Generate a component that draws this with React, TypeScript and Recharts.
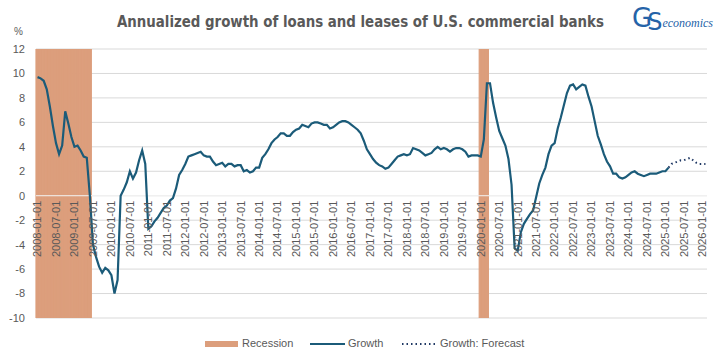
import { Bar, CartesianGrid, ComposedChart, Line, ReferenceLine, XAxis, YAxis } from "recharts";

const START_YEAR = 2008;

// monthly annualized growth, %, from 2008-01
const growth = [
  // 2008
  9.7, 9.6, 9.4, 8.7, 7.3, 5.7, 4.3, 3.4, 4.1, 6.9, 5.9, 4.8,
  // 2009
  4.0, 4.1, 3.7, 3.2, 3.1, 0.0, -4.0, -5.0, -5.8, -6.3, -5.9, -6.1,
  // 2010
  -6.5, -8.0, -6.9, 0.0, 0.5, 1.1, 2.0, 1.4, 1.9, 2.9, 3.7, 2.6,
  // 2011
  -2.7, -2.5, -2.1, -1.8, -1.4, -1.0, -0.8, -0.4, -0.2, 0.6, 1.7, 2.1,
  // 2012
  2.6, 3.2, 3.3, 3.4, 3.5, 3.6, 3.3, 3.2, 3.2, 2.8, 2.5, 2.6,
  // 2013
  2.7, 2.4, 2.6, 2.6, 2.4, 2.5, 2.5, 2.0, 2.1, 1.9, 2.0, 2.3,
  // 2014
  2.3, 3.1, 3.4, 3.8, 4.3, 4.6, 4.8, 5.1, 5.1, 4.9, 4.9, 5.2,
  // 2015
  5.4, 5.5, 5.8, 5.7, 5.6, 5.9, 6.0, 6.0, 5.9, 5.8, 5.8, 5.5,
  // 2016
  5.6, 5.8, 6.0, 6.1, 6.1, 6.0, 5.8, 5.6, 5.4, 5.1, 4.5, 3.8,
  // 2017
  3.4, 3.0, 2.7, 2.5, 2.4, 2.2, 2.3, 2.6, 2.9, 3.2, 3.3, 3.4,
  // 2018
  3.3, 3.4, 3.9, 3.8, 3.7, 3.5, 3.3, 3.4, 3.5, 3.8, 4.0, 3.8,
  // 2019
  3.9, 3.8, 3.6, 3.8, 3.9, 3.9, 3.8, 3.6, 3.2, 3.3, 3.3, 3.3,
  // 2020
  3.2, 4.6, 9.2, 9.2, 7.6, 6.4, 5.3, 4.7, 4.1, 3.0, 0.9, -4.3,
  // 2021
  -4.5, -3.0, -2.3, -1.9, -1.5, -1.2, -0.1, 1.0, 1.7, 2.3, 3.4, 4.1,
  // 2022
  4.3, 5.5, 6.4, 7.4, 8.4, 9.0, 9.1, 8.7, 8.9, 9.1, 9.0, 8.1,
  // 2023
  7.3, 6.1, 4.9, 4.2, 3.4, 2.8, 2.4, 1.8, 1.8, 1.5, 1.4, 1.5,
  // 2024
  1.7, 1.9, 2.0, 1.8, 1.7, 1.6, 1.7, 1.8, 1.8, 1.8, 1.9, 2.0,
  // 2025
  2.0, 2.3,
];

// forecast starts at the last actual month (2025-02)
const forecast = [2.3, 2.6, 2.7, 2.8, 2.9, 2.9, 3.0, 3.1, 2.9, 2.7, 2.6, 2.6, 2.6];

const recessions = [
  ["2008-01-01", "2009-06-01"],
  ["2020-01-01", "2020-03-01"],
];

const tickLabels = [
  "2008-01-01", "2008-07-01", "2009-01-01", "2009-07-01", "2010-01-01", "2010-07-01",
  "2011-01-01", "2011-07-01", "2012-01-01", "2012-07-01", "2013-01-01", "2013-07-01",
  "2014-01-01", "2014-07-01", "2015-01-01", "2015-07-01", "2016-01-01", "2016-07-01",
  "2017-01-01", "2017-07-01", "2018-01-01", "2018-07-01", "2019-01-01", "2019-07-01",
  "2020-01-01", "2020-07-01", "2021-01-01", "2021-07-01", "2022-01-01", "2022-07-01",
  "2023-01-01", "2023-07-01", "2024-01-01", "2024-07-01", "2025-01-01", "2025-07-01",
  "2026-01-01",
];

const yTicks = [-10, -8, -6, -4, -2, 0, 2, 4, 6, 8, 10, 12];
const Y_MIN = -10;
const Y_MAX = 12;

const forecastStart = growth.length - 1;
const monthCount = forecastStart + forecast.length;

const monthLabel = (i: number) => {
  const y = START_YEAR + Math.floor(i / 12);
  const m = (i % 12) + 1;
  return `${y}-${m < 10 ? "0" + m : m}-01`;
};

const data = Array.from({ length: monthCount }, (_, i) => {
  const date = monthLabel(i);
  const inRec = recessions.some(([a, b]) => date >= a && date <= b);
  return {
    date,
    rec: inRec ? [Y_MIN, Y_MAX] : null,
    growth: i < growth.length ? growth[i] : null,
    forecast: i >= forecastStart ? forecast[i - forecastStart] : null,
  };
});

const W = 721;
const H = 364;
const MARGIN = { top: 49, right: 14, bottom: 45, left: 0 };
const X_AXIS_H = 1;
const Y_AXIS_W = 36;
const PLOT_H = H - MARGIN.top - MARGIN.bottom - X_AXIS_H;
const ZERO_Y = MARGIN.top + (PLOT_H * Y_MAX) / (Y_MAX - Y_MIN);

const GREY = "#595959";
const REC = "#dc9e7c";
const LINE = "#1b5b79";
const FC = "#1f3864";
const FONT = '"Liberation Sans", Arial, sans-serif';

function DateTick(props: any) {
  const { x, payload } = props;
  if (!tickLabels.includes(payload.value)) return <g />;
  const y = ZERO_Y + 5;
  return (
    <text
      x={x}
      y={y}
      dy="0.35em"
      transform={`rotate(-90, ${x}, ${y})`}
      textAnchor="end"
      fontSize={11}
      fontFamily={FONT}
      fill={GREY}
    >
      {payload.value}
    </text>
  );
}

export default function App() {
  return (
    <div style={{ position: "absolute", left: 0, top: 0, width: W, height: H, background: "#fff", fontFamily: FONT }}>
      <div
        style={{
          position: "absolute",
          left: 0,
          width: 721,
          top: 12,
          textAlign: "center",
          fontFamily: '"DejaVu Sans Condensed", sans-serif',
          fontWeight: "bold",
          fontSize: 16.5,
          color: GREY,
          transform: "scaleX(0.9)",
          transformOrigin: "360px 0",
        }}
      >
        Annualized growth of loans and leases of U.S. commercial banks
      </div>
      <div style={{ position: "absolute", left: 632, top: 3, color: "#2563a8", whiteSpace: "nowrap" }}>
        <span style={{ fontFamily: "DejaVu Sans, sans-serif", fontSize: 26, letterSpacing: -5 }}>G</span>
        <span style={{ fontFamily: "DejaVu Sans, sans-serif", fontSize: 24, position: "relative", top: 3 }}>S</span>
        <span style={{ fontFamily: "Liberation Serif, serif", fontStyle: "italic", fontSize: 12, marginLeft: 0 }}>economics</span>
      </div>
      <div style={{ position: "absolute", left: 14, top: 26, fontSize: 10, color: GREY }}>%</div>

      <ComposedChart width={W} height={H} data={data} margin={MARGIN} barCategoryGap={0} barGap={0}>
        <CartesianGrid vertical={false} stroke="#d9d9d9" />
        <YAxis
          width={Y_AXIS_W}
          domain={[Y_MIN, Y_MAX]}
          ticks={yTicks}
          interval={0}
          allowDataOverflow
          axisLine={false}
          tickLine={false}
          tickSize={0}
          tickMargin={11}
          tick={{ fontSize: 11, fill: GREY, fontFamily: FONT }}
        />
        <XAxis
          dataKey="date"
          height={X_AXIS_H}
          interval={5}
          axisLine={false}
          tickLine={false}
          tick={<DateTick />}
        />
        <Bar dataKey="rec" fill={REC} stroke={REC} strokeWidth={1.2} isAnimationActive={false} />
        <ReferenceLine y={0} stroke="#f4f4f4" strokeWidth={1} />
        <Line
          dataKey="growth"
          stroke={LINE}
          strokeWidth={2.2}
          dot={false}
          isAnimationActive={false}
          connectNulls={false}
        />
        <Line
          dataKey="forecast"
          stroke={FC}
          strokeWidth={2}
          strokeDasharray="1.5 3"
          dot={false}
          isAnimationActive={false}
        />
      </ComposedChart>

      <div style={{ position: "absolute", top: 336, left: 0, width: W, height: 16, fontSize: 11, color: GREY }}>
        <div style={{ position: "absolute", left: 205, top: 5, width: 33, height: 6, background: REC }} />
        <div style={{ position: "absolute", left: 242, top: 1 }}>Recession</div>
        <svg style={{ position: "absolute", left: 310, top: 0 }} width={36} height={16}>
          <line x1={0} y1={8} x2={35} y2={8} stroke={LINE} strokeWidth={2} />
        </svg>
        <div style={{ position: "absolute", left: 348, top: 1 }}>Growth</div>
        <svg style={{ position: "absolute", left: 402, top: 0 }} width={36} height={16}>
          <line x1={0} y1={8} x2={35} y2={8} stroke={FC} strokeWidth={2} strokeDasharray="1.5 3" />
        </svg>
        <div style={{ position: "absolute", left: 440, top: 1 }}>Growth: Forecast</div>
      </div>
    </div>
  );
}
